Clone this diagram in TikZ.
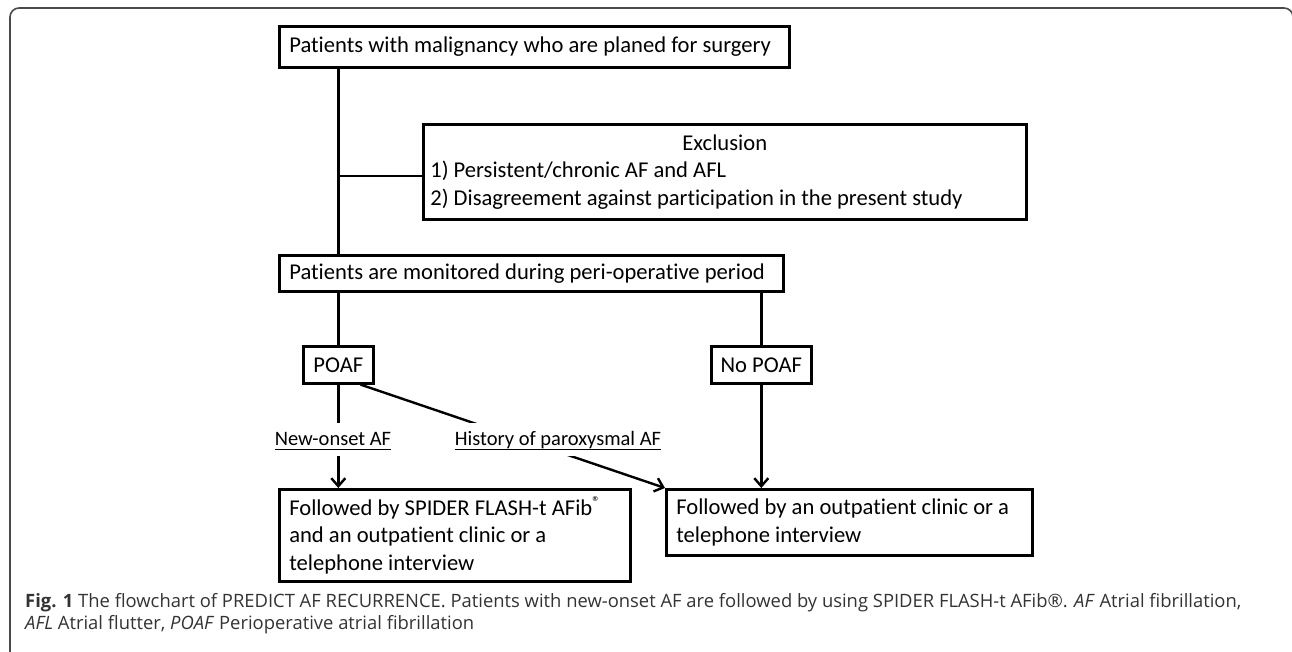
\documentclass[tikz,border=0pt]{standalone}
\usepackage{fontspec}
\setmainfont{Carlito}[Ligatures={NoCommon}]
\newfontfamily\capfamily{Open Sans}
\usetikzlibrary{arrows.meta}
\definecolor{capgray}{HTML}{333333}
\definecolor{framegray}{HTML}{4A4A4A}
\newcommand\bxfont{\fontsize{22.6}{27.5}\selectfont}
\newcommand\lbfont{\fontsize{20.5}{24}\selectfont}
\newcommand\cpfont{\capfamily\fontsize{18.4}{22}\selectfont}
\newcommand\bxl[2]{\makebox[#1][l]{#2}}
\begin{document}
\begin{tikzpicture}[x=1pt,y=-1pt,
  bx/.style={draw=black, line width=2.6pt, inner ysep=0pt, anchor=north west, font=\bxfont},
  conn/.style={line width=2.4pt},
  arr/.style={line width=2.4pt, -{Straight Barb[length=8pt,width=14pt]}},
  lab/.style={fill=white, font=\lbfont, inner xsep=1pt, inner ysep=0pt, text height=22pt, text depth=11pt, anchor=base},
  uline/.style={line width=1.3pt},
  captxt/.style={anchor=base west, inner sep=0pt, font=\cpfont, text=capgray}]
\useasboundingbox (0,0) rectangle (1292,651);
\clip (0,0) rectangle (1292,651);
% outer frame
\draw[framegray, line width=1.6pt, rounded corners=9pt] (10,653) -- (10,8) -- (1293,8) -- (1293,653);

% boxes
\node[bx, inner xsep=10pt, minimum width=510pt, minimum height=41pt] (b1) at (278,25)
  {\bxl{490pt}{Patients with malignancy who are planed for surgery}};
\node[bx, inner xsep=7pt, minimum width=603pt, minimum height=95pt, align=center] (excl) at (422,123)
  {\makebox[589pt][c]{Exclusion}\\\bxl{589pt}{1) Persistent/chronic AF and AFL}\\\bxl{589pt}{2) Disagreement against participation in the present study}};
\node[bx, inner xsep=10pt, minimum width=504pt, minimum height=36pt] (mon) at (278,254)
  {\bxl{484pt}{Patients are monitored during peri-operative period}};
\node[bx, inner xsep=0pt, minimum width=70pt, minimum height=37pt] (poaf) at (302,345) {POAF};
\node[bx, inner xsep=0pt, minimum width=100pt, minimum height=37pt] (npoaf) at (710,345) {No POAF};
\node[bx, inner xsep=10pt, minimum width=351pt, minimum height=92pt, align=left] (lbox) at (278,488)
  {\bxl{331pt}{Followed by SPIDER FLASH-t AFib\textsuperscript{®}}\\\bxl{331pt}{and an outpatient clinic or a}\\\bxl{331pt}{telephone interview}};
\node[bx, inner xsep=10pt, minimum width=366pt, minimum height=66pt, align=left] (rbox) at (665,488)
  {\bxl{346pt}{Followed by an outpatient clinic or a}\\\bxl{346pt}{telephone interview}};

% connectors
\draw[conn] (b1.south -| poaf.north) -- (mon.north -| poaf.north);
\draw[conn] ([yshift=-4pt]excl.west -| poaf.north) -- ([yshift=-4pt]excl.west);
\draw[conn] (mon.south -| poaf.north) -- (poaf.north);
\draw[conn] (mon.south -| npoaf.north) -- (npoaf.north);
\draw[arr] (poaf.south) -- (poaf.south |- lbox.north);
\draw[arr] ([xshift=-14pt]poaf.south east) -- (rbox.north west);
\draw[arr] (npoaf.south) -- (npoaf.south |- rbox.north);

% labels
\node[lab] (l1) at (333,445) {New-onset AF};
\node[lab] (l2) at (558,445) {History of paroxysmal AF};
\draw[uline] ([yshift=-4.5pt,xshift=1pt]l1.base west) -- ([yshift=-4.5pt,xshift=-1pt]l1.base east);
\draw[uline] ([yshift=-4.5pt,xshift=1pt]l2.base west) -- ([yshift=-4.5pt,xshift=-1pt]l2.base east);

% caption
\node[captxt] (c1) at (25,607) {\textbf{Fig. 1} The flowchart of PREDICT AF RECURRENCE. Patients with new-onset AF are followed by using SPIDER FLASH-t AFib®. \textit{AF} Atrial fibrillation,};
\node[captxt] (c2) at (25,629) {\textit{AFL} Atrial flutter, \textit{POAF} Perioperative atrial fibrillation};
\end{tikzpicture}
\end{document}
